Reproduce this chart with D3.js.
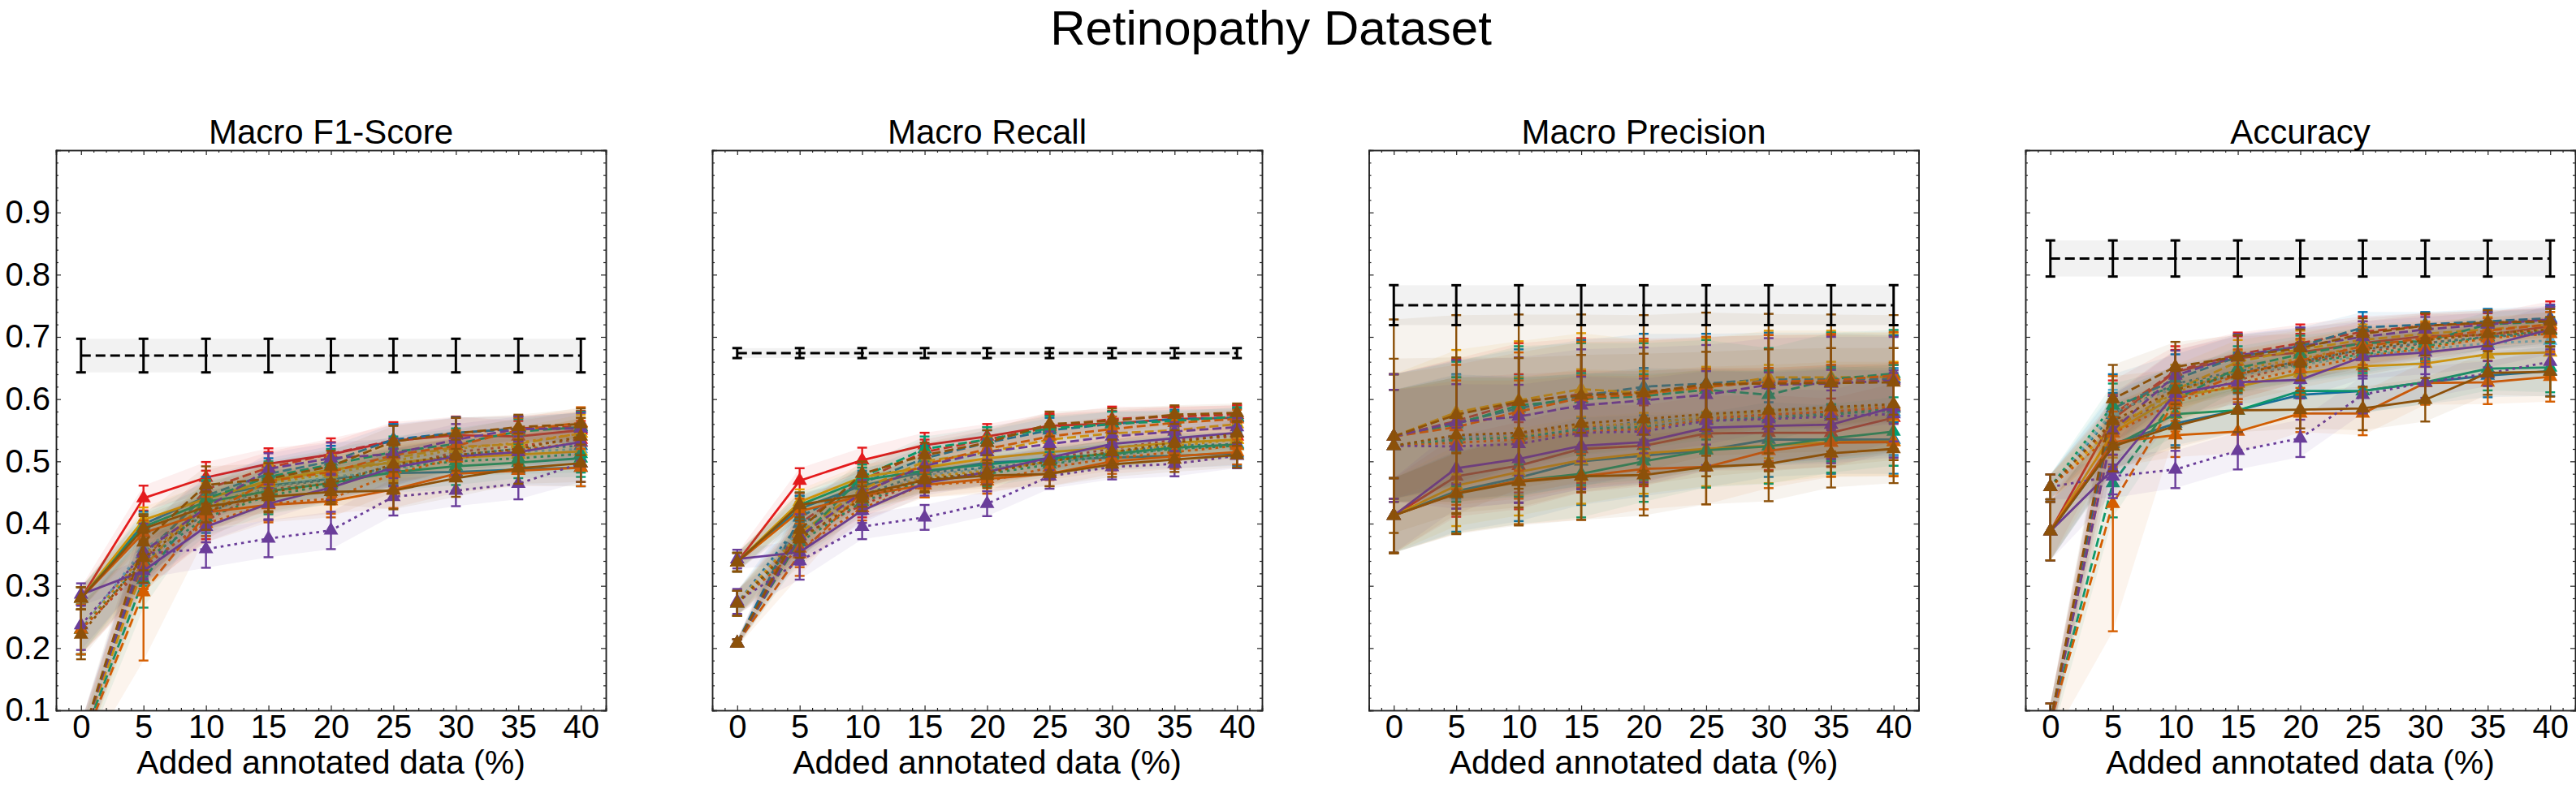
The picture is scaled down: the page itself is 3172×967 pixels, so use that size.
<!DOCTYPE html>
<html>
<head>
<meta charset="utf-8">
<script src="https://cdn.jsdelivr.net/npm/d3@7"></script>
<style>
  body { margin: 0; background: #fff; }
  text { font-family: "Liberation Sans", Arial, Helvetica, sans-serif; fill: #000; }
</style>
</head>
<body>
<svg id="chart"></svg>
<script>
// ---- data ----
const steps = [0, 5, 10, 15, 20, 25, 30, 35, 40];
const metricTitles = ["Macro F1-Score", "Macro Recall", "Macro Precision", "Accuracy"];
const yTickValues = [0.1, 0.2, 0.3, 0.4, 0.5, 0.6, 0.7, 0.8, 0.9];

// row order of every "solid"/"dashed" table, and of the "dotted" table
const solidColors = ["red", "blue", "yellow", "green", "vermilion", "purple", "brown"];
const dashedColors = ["red", "blue", "yellow", "green", "vermilion", "purple", "brown"];
const dottedColors = ["red", "blue", "yellow", "green", "vermilion", "purple", "brown", "sky"];

// fully supervised reference (black dashed line)
const baseMean = [0.670, 0.674, 0.751, 0.826];
const baseStd = [0.027, 0.008, 0.032, 0.029];

// Macro F1
const f1Solid = [
  [0.280, 0.441, 0.474, 0.496, 0.511, 0.533, 0.542, 0.540, 0.550],
  [0.280, 0.399, 0.443, 0.461, 0.472, 0.481, 0.483, 0.487, 0.490],
  [0.280, 0.406, 0.440, 0.469, 0.487, 0.498, 0.506, 0.511, 0.516],
  [0.280, 0.395, 0.435, 0.452, 0.465, 0.483, 0.492, 0.498, 0.505],
  [0.280, 0.385, 0.418, 0.430, 0.436, 0.455, 0.480, 0.485, 0.490],
  [0.286, 0.324, 0.395, 0.432, 0.458, 0.490, 0.508, 0.515, 0.531],
  [0.280, 0.392, 0.427, 0.443, 0.451, 0.453, 0.473, 0.489, 0.497]
];
const f1Dashed = [
  [0.050, 0.340, 0.455, 0.490, 0.512, 0.534, 0.545, 0.553, 0.556],
  [0.050, 0.350, 0.445, 0.480, 0.500, 0.535, 0.546, 0.552, 0.553],
  [0.050, 0.330, 0.440, 0.468, 0.485, 0.505, 0.523, 0.528, 0.545],
  [0.045, 0.310, 0.440, 0.475, 0.495, 0.515, 0.528, 0.548, 0.555],
  [0.040, 0.290, 0.415, 0.468, 0.483, 0.510, 0.525, 0.550, 0.562],
  [0.050, 0.355, 0.425, 0.488, 0.505, 0.512, 0.535, 0.552, 0.553],
  [0.050, 0.370, 0.462, 0.472, 0.492, 0.532, 0.545, 0.555, 0.560]
];
const f1Dotted = [
  [0.230, 0.330, 0.405, 0.455, 0.465, 0.490, 0.515, 0.525, 0.535],
  [0.230, 0.355, 0.415, 0.460, 0.470, 0.492, 0.510, 0.520, 0.525],
  [0.230, 0.350, 0.425, 0.465, 0.480, 0.500, 0.520, 0.530, 0.545],
  [0.230, 0.340, 0.410, 0.445, 0.462, 0.490, 0.500, 0.505, 0.512],
  [0.230, 0.335, 0.400, 0.432, 0.440, 0.480, 0.505, 0.518, 0.530],
  [0.237, 0.352, 0.359, 0.376, 0.389, 0.443, 0.453, 0.464, 0.497],
  [0.222, 0.345, 0.420, 0.450, 0.465, 0.495, 0.510, 0.520, 0.540],
  [0.230, 0.360, 0.420, 0.458, 0.475, 0.485, 0.505, 0.515, 0.520]
];
const f1SolidStd = [0.018, 0.020, 0.025, 0.025, 0.020, 0.030, 0.030, 0.025, 0.030];
const f1DashedStd = [0.030, 0.045, 0.030, 0.025, 0.025, 0.025, 0.025, 0.020, 0.025];
const f1DottedStd = [0.040, 0.040, 0.030, 0.030, 0.030, 0.030, 0.025, 0.025, 0.030];
const f1DashedVermilionStd = [0.030, 0.110, 0.035, 0.030, 0.025, 0.025, 0.025, 0.020, 0.025];

// Macro Recall
const recSolid = [
  [0.338, 0.469, 0.502, 0.526, 0.540, 0.557, 0.561, 0.568, 0.570],
  [0.338, 0.424, 0.461, 0.483, 0.498, 0.503, 0.506, 0.509, 0.513],
  [0.338, 0.435, 0.475, 0.490, 0.505, 0.515, 0.522, 0.530, 0.535],
  [0.338, 0.430, 0.470, 0.485, 0.495, 0.505, 0.512, 0.522, 0.527],
  [0.338, 0.420, 0.445, 0.462, 0.472, 0.480, 0.500, 0.508, 0.515],
  [0.343, 0.354, 0.421, 0.465, 0.483, 0.506, 0.528, 0.537, 0.546],
  [0.338, 0.430, 0.447, 0.470, 0.477, 0.480, 0.495, 0.503, 0.510]
];
const recDashed = [
  [0.208, 0.400, 0.470, 0.515, 0.535, 0.555, 0.568, 0.572, 0.575],
  [0.208, 0.410, 0.465, 0.505, 0.530, 0.550, 0.560, 0.568, 0.570],
  [0.208, 0.385, 0.455, 0.500, 0.515, 0.535, 0.545, 0.550, 0.560],
  [0.208, 0.375, 0.475, 0.520, 0.535, 0.553, 0.560, 0.565, 0.572],
  [0.208, 0.351, 0.450, 0.495, 0.520, 0.540, 0.552, 0.562, 0.568],
  [0.208, 0.380, 0.450, 0.493, 0.515, 0.528, 0.540, 0.548, 0.555],
  [0.208, 0.390, 0.480, 0.510, 0.530, 0.560, 0.565, 0.575, 0.578]
];
const recDotted = [
  [0.272, 0.380, 0.430, 0.470, 0.480, 0.505, 0.520, 0.535, 0.540],
  [0.272, 0.400, 0.445, 0.482, 0.490, 0.500, 0.515, 0.525, 0.528],
  [0.272, 0.385, 0.440, 0.475, 0.485, 0.500, 0.515, 0.525, 0.535],
  [0.272, 0.370, 0.435, 0.470, 0.480, 0.495, 0.510, 0.520, 0.525],
  [0.272, 0.360, 0.425, 0.462, 0.468, 0.490, 0.505, 0.515, 0.525],
  [0.275, 0.340, 0.395, 0.410, 0.432, 0.476, 0.491, 0.496, 0.509],
  [0.272, 0.375, 0.440, 0.472, 0.482, 0.500, 0.515, 0.530, 0.545],
  [0.272, 0.390, 0.440, 0.478, 0.488, 0.498, 0.510, 0.520, 0.527]
];
const recSolidStd = [0.015, 0.020, 0.020, 0.020, 0.020, 0.020, 0.020, 0.020, 0.020];
const recDashedStd = [0.006, 0.035, 0.020, 0.020, 0.020, 0.020, 0.020, 0.015, 0.015];
const recDottedStd = [0.020, 0.030, 0.020, 0.020, 0.020, 0.020, 0.020, 0.020, 0.020];

// Macro Precision
const precSolid = [
  [0.413, 0.476, 0.493, 0.520, 0.525, 0.545, 0.546, 0.546, 0.570],
  [0.413, 0.452, 0.474, 0.500, 0.509, 0.518, 0.535, 0.535, 0.535],
  [0.413, 0.461, 0.483, 0.502, 0.513, 0.520, 0.525, 0.531, 0.532],
  [0.413, 0.450, 0.469, 0.480, 0.500, 0.518, 0.524, 0.537, 0.548],
  [0.413, 0.449, 0.469, 0.476, 0.488, 0.491, 0.517, 0.530, 0.531],
  [0.413, 0.489, 0.504, 0.525, 0.531, 0.554, 0.557, 0.559, 0.587],
  [0.413, 0.448, 0.467, 0.476, 0.478, 0.491, 0.496, 0.513, 0.520]
];
const precDashed = [
  [0.540, 0.565, 0.595, 0.608, 0.612, 0.620, 0.628, 0.628, 0.632],
  [0.540, 0.562, 0.585, 0.605, 0.620, 0.625, 0.632, 0.632, 0.633],
  [0.540, 0.579, 0.598, 0.616, 0.610, 0.618, 0.635, 0.635, 0.636],
  [0.540, 0.560, 0.590, 0.600, 0.605, 0.615, 0.607, 0.632, 0.641],
  [0.540, 0.555, 0.580, 0.602, 0.608, 0.620, 0.628, 0.630, 0.638],
  [0.540, 0.563, 0.572, 0.590, 0.598, 0.607, 0.623, 0.625, 0.630],
  [0.540, 0.575, 0.596, 0.606, 0.610, 0.624, 0.625, 0.626, 0.627]
];
const precDotted = [
  [0.525, 0.535, 0.545, 0.555, 0.560, 0.570, 0.575, 0.580, 0.585],
  [0.525, 0.540, 0.540, 0.550, 0.565, 0.568, 0.572, 0.578, 0.580],
  [0.525, 0.535, 0.540, 0.558, 0.560, 0.572, 0.580, 0.585, 0.590],
  [0.525, 0.535, 0.538, 0.552, 0.555, 0.566, 0.570, 0.575, 0.585],
  [0.525, 0.530, 0.535, 0.548, 0.552, 0.568, 0.575, 0.580, 0.588],
  [0.525, 0.524, 0.528, 0.546, 0.548, 0.565, 0.568, 0.572, 0.576],
  [0.525, 0.542, 0.546, 0.561, 0.568, 0.576, 0.582, 0.587, 0.592],
  [0.525, 0.538, 0.542, 0.550, 0.562, 0.566, 0.570, 0.574, 0.578]
];
const precSolidStd = [0.060, 0.065, 0.070, 0.070, 0.065, 0.060, 0.060, 0.055, 0.055];
const precDashedStd = [0.100, 0.100, 0.095, 0.090, 0.085, 0.080, 0.075, 0.075, 0.070];
const precDottedStd = [0.090, 0.100, 0.095, 0.090, 0.085, 0.080, 0.075, 0.075, 0.070];
const precDashedBrownStd = [0.188, 0.160, 0.140, 0.130, 0.125, 0.115, 0.112, 0.110, 0.108];
const precDottedBrownStd = [0.140, 0.125, 0.120, 0.110, 0.105, 0.100, 0.098, 0.095, 0.090];

// Accuracy
const accSolid = [
  [0.388, 0.568, 0.644, 0.666, 0.675, 0.690, 0.701, 0.703, 0.717],
  [0.388, 0.528, 0.561, 0.582, 0.607, 0.613, 0.627, 0.638, 0.645],
  [0.388, 0.546, 0.605, 0.620, 0.642, 0.653, 0.657, 0.672, 0.675],
  [0.388, 0.524, 0.576, 0.582, 0.613, 0.613, 0.627, 0.649, 0.651],
  [0.388, 0.531, 0.542, 0.548, 0.577, 0.577, 0.626, 0.627, 0.636],
  [0.388, 0.487, 0.609, 0.627, 0.631, 0.668, 0.675, 0.686, 0.712],
  [0.388, 0.524, 0.557, 0.582, 0.583, 0.585, 0.599, 0.642, 0.644]
];
const accDashed = [
  [0.080, 0.575, 0.645, 0.672, 0.690, 0.708, 0.718, 0.722, 0.728],
  [0.080, 0.585, 0.632, 0.668, 0.685, 0.715, 0.720, 0.725, 0.730],
  [0.080, 0.550, 0.615, 0.660, 0.680, 0.695, 0.705, 0.712, 0.720],
  [0.080, 0.465, 0.600, 0.650, 0.672, 0.690, 0.693, 0.720, 0.725],
  [0.080, 0.432, 0.598, 0.640, 0.662, 0.685, 0.698, 0.710, 0.720],
  [0.080, 0.550, 0.638, 0.670, 0.685, 0.700, 0.712, 0.720, 0.728],
  [0.080, 0.600, 0.652, 0.668, 0.682, 0.705, 0.718, 0.723, 0.725]
];
const accDotted = [
  [0.459, 0.560, 0.600, 0.630, 0.658, 0.675, 0.690, 0.700, 0.710],
  [0.459, 0.575, 0.625, 0.645, 0.660, 0.680, 0.690, 0.700, 0.705],
  [0.459, 0.555, 0.610, 0.648, 0.665, 0.685, 0.695, 0.705, 0.712],
  [0.459, 0.590, 0.620, 0.642, 0.658, 0.672, 0.685, 0.700, 0.710],
  [0.459, 0.545, 0.595, 0.625, 0.648, 0.668, 0.682, 0.698, 0.705],
  [0.459, 0.476, 0.487, 0.517, 0.537, 0.607, 0.627, 0.641, 0.660],
  [0.459, 0.565, 0.615, 0.640, 0.660, 0.680, 0.695, 0.705, 0.712],
  [0.459, 0.580, 0.618, 0.638, 0.655, 0.670, 0.680, 0.690, 0.694]
];
const accSolidStd = [0.047, 0.040, 0.035, 0.035, 0.030, 0.035, 0.035, 0.035, 0.040];
const accDashedStd = [0.031, 0.055, 0.040, 0.035, 0.030, 0.025, 0.020, 0.020, 0.020];
const accDottedStd = [0.020, 0.035, 0.030, 0.030, 0.030, 0.030, 0.025, 0.020, 0.020];
const accDashedVermilionStd = [0.031, 0.205, 0.050, 0.040, 0.035, 0.030, 0.025, 0.020, 0.020];

// ---- styling ----
const palette = {
  red: "#E41A1C", blue: "#0072B2", sky: "#56B4E9", yellow: "#E69F00",
  green: "#009E73", vermilion: "#D55E00", purple: "#6A3D9A", brown: "#8C510A"
};
const drawOrder = ["red", "blue", "sky", "yellow", "green", "vermilion", "purple", "brown"];
const dashArray = { solid: null, dashed: "11,5", dotted: "3.5,5" };

const W = 3172, H = 967;
const panelLeft = [69, 877, 1685.5, 2494];
const panelTop = 185, panelW = 677, panelH = 690;

// group tables per metric
const tables = [
  { solid: f1Solid, dashed: f1Dashed, dotted: f1Dotted,
    std: { solid: f1SolidStd, dashed: f1DashedStd, dotted: f1DottedStd },
    special: { "dashed-vermilion": f1DashedVermilionStd } },
  { solid: recSolid, dashed: recDashed, dotted: recDotted,
    std: { solid: recSolidStd, dashed: recDashedStd, dotted: recDottedStd },
    special: {} },
  { solid: precSolid, dashed: precDashed, dotted: precDotted,
    std: { solid: precSolidStd, dashed: precDashedStd, dotted: precDottedStd },
    special: { "dashed-brown": precDashedBrownStd, "dotted-brown": precDottedBrownStd } },
  { solid: accSolid, dashed: accDashed, dotted: accDotted,
    std: { solid: accSolidStd, dashed: accDashedStd, dotted: accDottedStd },
    special: { "dashed-vermilion": accDashedVermilionStd } }
];
const rowOrder = { solid: solidColors, dashed: dashedColors, dotted: dottedColors };

function seriesFor(t) {
  const out = [];
  drawOrder.forEach(c => {
    ["solid", "dashed", "dotted"].forEach(style => {
      const row = rowOrder[style].indexOf(c);
      if (row < 0) return;
      out.push({
        color: palette[c], style: style,
        mean: t[style][row],
        std: t.special[style + "-" + c] || t.std[style]
      });
    });
  });
  return out;
}

const svg = d3.select("#chart").attr("width", W).attr("height", H);
svg.append("rect").attr("width", W).attr("height", H).attr("fill", "#fff");

svg.append("text")
  .attr("x", 1565).attr("y", 55)
  .attr("text-anchor", "middle")
  .attr("font-size", 60)
  .text("Retinopathy Dataset");

metricTitles.forEach((title, i) => {
  const g = svg.append("g").attr("transform", "translate(" + panelLeft[i] + "," + panelTop + ")");
  const x = d3.scaleLinear().domain([-2, 42]).range([0, panelW]);
  const y = d3.scaleLinear().domain([0.1, 1.0]).range([panelH, 0]);

  g.append("clipPath").attr("id", "clip" + i)
    .append("rect").attr("width", panelW).attr("height", panelH);
  const plot = g.append("g").attr("clip-path", "url(#clip" + i + ")");

  const line = d3.line().x((d, j) => x(steps[j])).y(d => y(d));

  seriesFor(tables[i]).forEach(s => {
    const band = d3.area()
      .x((d, j) => x(steps[j]))
      .y0((d, j) => y(d - s.std[j]))
      .y1((d, j) => y(d + s.std[j]));
    plot.append("path").datum(s.mean)
      .attr("d", band)
      .attr("fill", s.color).attr("fill-opacity", 0.07);

    const eb = plot.append("g").attr("stroke", s.color).attr("stroke-width", 2.4);
    s.mean.forEach((m, j) => {
      const cx = x(steps[j]), lo = y(m - s.std[j]), hi = y(m + s.std[j]);
      eb.append("line").attr("x1", cx).attr("x2", cx).attr("y1", lo).attr("y2", hi);
      eb.append("line").attr("x1", cx - 6).attr("x2", cx + 6).attr("y1", lo).attr("y2", lo);
      eb.append("line").attr("x1", cx - 6).attr("x2", cx + 6).attr("y1", hi).attr("y2", hi);
    });

    plot.append("path").datum(s.mean)
      .attr("d", line)
      .attr("fill", "none")
      .attr("stroke", s.color)
      .attr("stroke-width", 2.8)
      .attr("stroke-dasharray", dashArray[s.style]);

    plot.append("g").selectAll("path").data(s.mean).join("path")
      .attr("transform", (d, j) => "translate(" + x(steps[j]) + "," + y(d) + ")")
      .attr("d", d3.symbol(d3.symbolTriangle, 140))
      .attr("fill", s.color);
  });

  // fully supervised reference
  const bm = baseMean[i], bs = baseStd[i];
  plot.append("rect")
    .attr("x", x(0)).attr("width", x(40) - x(0))
    .attr("y", y(bm + bs)).attr("height", y(bm - bs) - y(bm + bs))
    .attr("fill", "#000").attr("fill-opacity", 0.05);
  plot.append("line")
    .attr("x1", x(0)).attr("x2", x(40)).attr("y1", y(bm)).attr("y2", y(bm))
    .attr("stroke", "#000").attr("stroke-width", 3).attr("stroke-dasharray", "12,6");
  const beb = plot.append("g").attr("stroke", "#000").attr("stroke-width", 3);
  steps.forEach(st => {
    const cx = x(st);
    beb.append("line").attr("x1", cx).attr("x2", cx).attr("y1", y(bm - bs)).attr("y2", y(bm + bs));
    beb.append("line").attr("x1", cx - 6).attr("x2", cx + 6).attr("y1", y(bm - bs)).attr("y2", y(bm - bs));
    beb.append("line").attr("x1", cx - 6).attr("x2", cx + 6).attr("y1", y(bm + bs)).attr("y2", y(bm + bs));
  });

  // axes: inward ticks on all four sides
  const xMinor = d3.range(-2, 43).filter(v => v % 5 !== 0);
  const yMinor = d3.range(0.12, 1.0, 0.02).filter(v => Math.abs(v * 10 - Math.round(v * 10)) > 0.01);

  const gx = g.append("g").attr("transform", "translate(0," + panelH + ")")
    .call(d3.axisBottom(x).tickValues(steps).tickSize(-6).tickPadding(6));
  gx.selectAll("text").attr("font-size", 40);
  g.append("g").attr("transform", "translate(0," + panelH + ")")
    .call(d3.axisBottom(x).tickValues(xMinor).tickSize(-3).tickFormat(""));
  g.append("g").call(d3.axisTop(x).tickValues(steps).tickSize(-6).tickFormat(""));
  g.append("g").call(d3.axisTop(x).tickValues(xMinor).tickSize(-3).tickFormat(""));

  const gy = g.append("g")
    .call(d3.axisLeft(y).tickValues(yTickValues).tickSize(-6).tickPadding(7)
      .tickFormat(i === 0 ? d3.format(".1f") : ""));
  gy.selectAll("text").attr("font-size", 40);
  g.append("g").call(d3.axisLeft(y).tickValues(yMinor).tickSize(-3).tickFormat(""));
  g.append("g").attr("transform", "translate(" + panelW + ",0)")
    .call(d3.axisRight(y).tickValues(yTickValues).tickSize(-6).tickFormat(""));
  g.append("g").attr("transform", "translate(" + panelW + ",0)")
    .call(d3.axisRight(y).tickValues(yMinor).tickSize(-3).tickFormat(""));

  g.selectAll(".domain").attr("stroke", "#222").attr("stroke-width", 1.5);
  g.selectAll(".tick line").attr("stroke", "#222").attr("stroke-width", 1.2);

  g.append("text")
    .attr("x", panelW / 2).attr("y", -8)
    .attr("text-anchor", "middle").attr("font-size", 42)
    .text(title);

  g.append("text")
    .attr("x", panelW / 2).attr("y", panelH + 78)
    .attr("text-anchor", "middle").attr("font-size", 41)
    .text("Added annotated data (%)");
});
</script>
</body>
</html>
